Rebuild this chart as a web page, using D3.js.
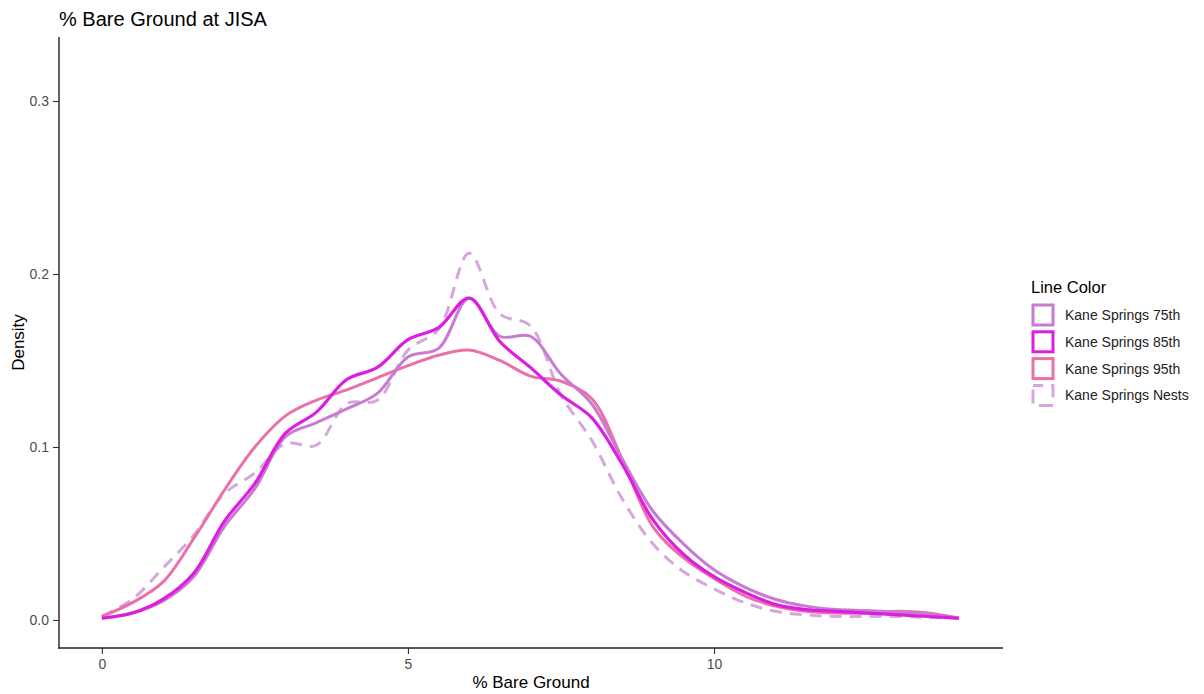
<!DOCTYPE html>
<html>
<meta charset="utf-8">
<script src="https://cdn.jsdelivr.net/npm/d3@7/dist/d3.min.js"></script>
<title>% Bare Ground at JISA</title>
<style>
body { margin: 0; background: #fff; }
text { font-family: "Liberation Sans", Arial, sans-serif; }
</style>
<body>
<script type="text/javascript">

// bare ground (%) sample positions, shared by every series
var xs = [0, 0.5, 1, 1.5, 2, 2.5, 3, 3.5, 4, 4.5, 5, 5.5, 6, 6.5, 7,
          7.5, 8, 8.5, 9, 9.5, 10, 10.5, 11, 11.5, 12, 12.5, 13, 13.5, 14];

var seriesNames = ["Kane Springs 75th", "Kane Springs 85th", "Kane Springs 95th", "Kane Springs Nests"];

var d75 = [0.001, 0.004, 0.011, 0.025, 0.054, 0.076, 0.106, 0.114, 0.122, 0.131, 0.152, 0.157, 0.186, 0.164, 0.164,
           0.142, 0.125, 0.093, 0.063, 0.044, 0.029, 0.019, 0.012, 0.008, 0.006, 0.0055, 0.0045, 0.0035, 0.001];
var d85 = [0.001, 0.004, 0.012, 0.027, 0.057, 0.079, 0.108, 0.120, 0.139, 0.146, 0.162, 0.169, 0.186, 0.161, 0.146,
           0.130, 0.117, 0.090, 0.058, 0.038, 0.025, 0.016, 0.009, 0.006, 0.005, 0.004, 0.003, 0.002, 0.001];
var d95 = [0.002, 0.010, 0.022, 0.047, 0.075, 0.100, 0.118, 0.127, 0.133, 0.140, 0.147, 0.153, 0.156, 0.150, 0.141,
           0.138, 0.128, 0.093, 0.054, 0.036, 0.024, 0.014, 0.008, 0.005, 0.004, 0.004, 0.005, 0.004, 0.001];
var dNests = [0.002, 0.012, 0.030, 0.049, 0.073, 0.085, 0.102, 0.101, 0.125, 0.127, 0.156, 0.168, 0.212, 0.177, 0.170,
              0.130, 0.104, 0.070, 0.044, 0.028, 0.018, 0.010, 0.005, 0.003, 0.002, 0.002, 0.002, 0.0015, 0.001];

var xTicks = [0, 5, 10];
var yTicks = [0, 0.1, 0.2, 0.3];

var colors = {
    "Kane Springs 75th": "#c97ad1",
    "Kane Springs 85th": "#dc1ee0",
    "Kane Springs 95th": "#ec70a8",
    "Kane Springs Nests": "#d5a7dd"
};
var dashes = {
    "Kane Springs 75th": null,
    "Kane Springs 85th": null,
    "Kane Springs 95th": null,
    "Kane Springs Nests": "12,8"
};

var size = { width : 1204, height : 694 };
var panel = { left : 59, right : 1003, top : 37, bottom : 648 };

var xScale = d3.scaleLinear()
    .domain([-0.70, 14.72])
    .range([panel.left, panel.right]);
var yScale = d3.scaleLinear()
    .domain([-0.0162, 0.337])
    .range([panel.bottom, panel.top]);

var series = [
    { id : seriesNames[3], values : dNests },
    { id : seriesNames[2], values : d95 },
    { id : seriesNames[0], values : d75 },
    { id : seriesNames[1], values : d85 }
];

var line = d3.line()
    .curve(d3.curveCatmullRom.alpha(0.5))
    .x(function(d, i) { return xScale(xs[i]); })
    .y(function(d) { return yScale(d); });

var svg = d3.select("body")
    .append("svg")
    .attr("width", size.width)
    .attr("height", size.height);

// title
svg.append("text")
    .attr("x", 59)
    .attr("y", 26)
    .style("font-size", "20px")
    .style("fill", "#000")
    .text("% Bare Ground at JISA");

// density lines
svg.selectAll(".graph")
    .data(series)
    .enter()
    .append("path")
    .attr("class", "graph")
    .attr("d", function(d) { return line(d.values); })
    .style("fill", "none")
    .style("stroke", function(d) { return colors[d.id]; })
    .style("stroke-width", function(d) { return d.id == seriesNames[1] ? 3.2 : 3; })
    .style("stroke-dasharray", function(d) { return dashes[d.id]; })
    .style("stroke-linecap", "butt");

// axes
var xAxis = svg.append("g")
    .attr("class", "axisX")
    .attr("transform", "translate(0," + panel.bottom + ")")
    .call(d3.axisBottom(xScale).tickValues(xTicks).tickFormat(d3.format("d")).tickSizeOuter(0).tickSize(6).tickPadding(5));
var yAxis = svg.append("g")
    .attr("class", "axisY")
    .attr("transform", "translate(" + panel.left + ",0)")
    .call(d3.axisLeft(yScale).tickValues(yTicks).tickFormat(d3.format(".1f")).tickSizeOuter(0).tickSize(6).tickPadding(4));

svg.selectAll(".axisX .domain, .axisY .domain").remove();
svg.selectAll(".axisX line, .axisY line").style("stroke", "#333").style("stroke-width", 1.1);
svg.selectAll(".axisX text, .axisY text")
    .style("font-family", "'Liberation Sans', Arial, sans-serif")
    .style("font-size", "14px")
    .style("fill", "#4d4d4d");

svg.append("line")
    .attr("x1", panel.left).attr("x2", panel.left)
    .attr("y1", panel.top).attr("y2", panel.bottom + 0.7)
    .style("stroke", "#222").style("stroke-width", 1.4);
svg.append("line")
    .attr("x1", panel.left - 0.7).attr("x2", panel.right)
    .attr("y1", panel.bottom).attr("y2", panel.bottom)
    .style("stroke", "#222").style("stroke-width", 1.4);

// axis titles
svg.append("text")
    .attr("x", (panel.left + panel.right) / 2)
    .attr("y", 688)
    .attr("text-anchor", "middle")
    .style("font-size", "17px")
    .text("% Bare Ground");
svg.append("text")
    .attr("transform", "translate(24," + ((panel.top + panel.bottom) / 2) + ") rotate(-90)")
    .attr("text-anchor", "middle")
    .style("font-size", "17px")
    .text("Density");

// legend
var legend = svg.append("g")
    .attr("transform", "translate(1031,0)");
legend.append("text")
    .attr("x", 0)
    .attr("y", 293)
    .style("font-size", "16.5px")
    .text("Line Color");

var keys = legend.selectAll(".key")
    .data(seriesNames)
    .enter()
    .append("g")
    .attr("class", "key")
    .attr("transform", function(d, i) { return "translate(0," + (304 + i * 26.8) + ")"; });
keys.append("rect")
    .attr("x", 2)
    .attr("y", 1)
    .attr("width", 20)
    .attr("height", 20)
    .style("fill", "none")
    .style("stroke", function(d) { return colors[d]; })
    .style("stroke-width", 3)
    .style("stroke-dasharray", function(d) { return dashes[d] ? "14,8" : null; })
    .style("stroke-dashoffset", function(d) { return dashes[d] ? 4 : null; });
keys.append("text")
    .attr("x", 34)
    .attr("y", 16)
    .style("font-size", "14px")
    .style("fill", "#222")
    .text(function(d) { return d; });

</script>
</body>
</html>
